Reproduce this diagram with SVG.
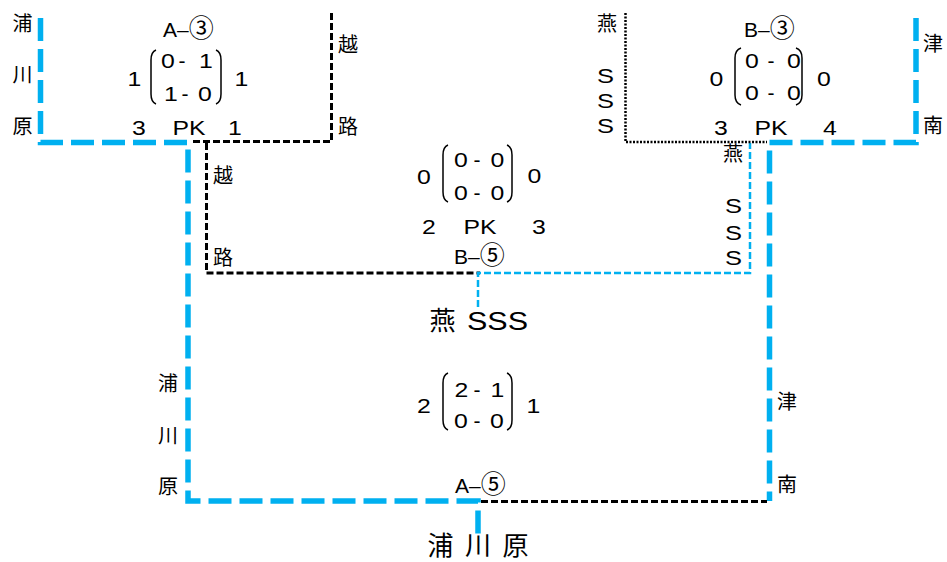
<svg xmlns="http://www.w3.org/2000/svg" width="947" height="562" viewBox="0 0 947 562">
<style>
.n{font-family:"Liberation Sans",Arial,sans-serif;font-size:21px;fill:#000;text-anchor:middle}
.m{font-family:"Liberation Sans",Arial,sans-serif;font-size:21px;fill:#000;text-anchor:middle}
.h{font-family:"Liberation Sans","Noto Sans CJK JP",sans-serif;font-size:21px;fill:#000}
.c{font-family:"Noto Sans CJK JP",sans-serif;font-size:25px}
.j{font-family:"Noto Sans CJK JP",sans-serif;font-size:20px;fill:#000;text-anchor:middle}
.big{font-family:"Liberation Sans","Noto Sans CJK JP",sans-serif;font-size:25px;fill:#000}
.bj{font-family:"Noto Sans CJK JP",sans-serif;font-size:26px;fill:#000;text-anchor:middle}
.bl{fill:none;stroke:#00b0f0;stroke-width:5.5;stroke-dasharray:23 8}
.bt{fill:none;stroke:#00b0f0;stroke-width:2.5;stroke-dasharray:7 3}
.kd{fill:none;stroke:#000;stroke-width:3;stroke-dasharray:7 3}
.kt{fill:none;stroke:#000;stroke-width:2.5;stroke-dasharray:2 1.5}
.p{fill:none;stroke:#000;stroke-width:1.5}
</style>
<g id="connectors">
<path class="kd" d="M331.5,13 V141.5 H190"/>
<path class="kd" d="M206.5,143 V273 H480"/>
<path class="bt" d="M478,307 V273 H750 V143"/>
<path class="kt" d="M625.5,13 V142 H767"/>
<path class="bl" d="M40.5,18 V142.5 H188 V501 H478 V535"/>
<path class="bl" d="M916,18 V142.5 H769.5 V501"/>
<path class="kd" d="M481,501.5 H767"/>
</g>
<g id="team-urakawara-top">
<text class="j" x="22.5" y="31">浦</text>
<text class="j" x="22.5" y="82">川</text>
<text class="j" x="22.5" y="134">原</text>
</g>
<g id="team-koshiji-top">
<text class="j" x="348" y="52">越</text>
<text class="j" x="348" y="134">路</text>
</g>
<g id="match-a3">
<text class="h" x="163" y="37">A–<tspan class="c">③</tspan></text>
<text class="n" x="134.5" y="86" textLength="13.8" lengthAdjust="spacingAndGlyphs">1</text>
<path class="p" d="M156,50 Q151,52 151,60 V94 Q151,102 156,104"/>
<path class="p" d="M216,50 Q221,52 221,60 V94 Q221,102 216,104"/>
<text class="m" x="168" y="68" textLength="13.8" lengthAdjust="spacingAndGlyphs">0</text>
<text class="m" x="182" y="68">-</text>
<text class="m" x="206" y="68" textLength="13.8" lengthAdjust="spacingAndGlyphs">1</text>
<text class="m" x="171" y="101" textLength="13.8" lengthAdjust="spacingAndGlyphs">1</text>
<text class="m" x="185" y="101">-</text>
<text class="m" x="205" y="101" textLength="13.8" lengthAdjust="spacingAndGlyphs">0</text>
<text class="n" x="241.5" y="86" textLength="13.8" lengthAdjust="spacingAndGlyphs">1</text>
<text class="n" x="139" y="135" textLength="13.8" lengthAdjust="spacingAndGlyphs">3</text>
<text class="n" x="189" y="135" textLength="33" lengthAdjust="spacingAndGlyphs">PK</text>
<text class="n" x="235" y="135" textLength="13.8" lengthAdjust="spacingAndGlyphs">1</text>
</g>
<g id="team-tsubame-top">
<text class="j" x="607" y="31">燕</text>
<text class="n" x="605.5" y="83" textLength="17" lengthAdjust="spacingAndGlyphs">S</text>
<text class="n" x="605.5" y="108" textLength="17" lengthAdjust="spacingAndGlyphs">S</text>
<text class="n" x="605.5" y="133" textLength="17" lengthAdjust="spacingAndGlyphs">S</text>
</g>
<g id="team-tsunan-top">
<text class="j" x="933" y="51">津</text>
<text class="j" x="933" y="133">南</text>
</g>
<g id="match-b3">
<text class="h" x="744" y="37">B–<tspan class="c">③</tspan></text>
<text class="n" x="716.5" y="86" textLength="13.8" lengthAdjust="spacingAndGlyphs">0</text>
<path class="p" d="M741,48 Q735,50 735,58 V95 Q735,103 741,105"/>
<path class="p" d="M796,48 Q802,50 802,58 V95 Q802,103 796,105"/>
<text class="m" x="752" y="68" textLength="13.8" lengthAdjust="spacingAndGlyphs">0</text>
<text class="m" x="771" y="68">-</text>
<text class="m" x="794" y="68" textLength="13.8" lengthAdjust="spacingAndGlyphs">0</text>
<text class="m" x="752" y="100" textLength="13.8" lengthAdjust="spacingAndGlyphs">0</text>
<text class="m" x="771" y="100">-</text>
<text class="m" x="794" y="100" textLength="13.8" lengthAdjust="spacingAndGlyphs">0</text>
<text class="n" x="824" y="86" textLength="13.8" lengthAdjust="spacingAndGlyphs">0</text>
<text class="n" x="721" y="135" textLength="13.8" lengthAdjust="spacingAndGlyphs">3</text>
<text class="n" x="771" y="135" textLength="33" lengthAdjust="spacingAndGlyphs">PK</text>
<text class="n" x="830" y="135" textLength="13.8" lengthAdjust="spacingAndGlyphs">4</text>
</g>
<g id="team-koshiji-mid">
<text class="j" x="223" y="183">越</text>
<text class="j" x="223" y="265">路</text>
</g>
<g id="team-tsubame-mid">
<text class="j" x="733" y="161">燕</text>
<text class="n" x="733.5" y="213" textLength="17" lengthAdjust="spacingAndGlyphs">S</text>
<text class="n" x="733.5" y="240" textLength="17" lengthAdjust="spacingAndGlyphs">S</text>
<text class="n" x="733.5" y="265" textLength="17" lengthAdjust="spacingAndGlyphs">S</text>
</g>
<g id="match-b5">
<text class="n" x="424" y="184" textLength="13.8" lengthAdjust="spacingAndGlyphs">0</text>
<path class="p" d="M448,145 Q443,147 443,155 V192 Q443,200 448,202"/>
<path class="p" d="M507,145 Q512,147 512,155 V192 Q512,200 507,202"/>
<text class="m" x="461" y="167" textLength="13.8" lengthAdjust="spacingAndGlyphs">0</text>
<text class="m" x="477" y="167">-</text>
<text class="m" x="497.5" y="167" textLength="13.8" lengthAdjust="spacingAndGlyphs">0</text>
<text class="m" x="461" y="200" textLength="13.8" lengthAdjust="spacingAndGlyphs">0</text>
<text class="m" x="477" y="200">-</text>
<text class="m" x="497.5" y="200" textLength="13.8" lengthAdjust="spacingAndGlyphs">0</text>
<text class="n" x="534.5" y="183" textLength="13.8" lengthAdjust="spacingAndGlyphs">0</text>
<text class="n" x="429" y="234" textLength="13.8" lengthAdjust="spacingAndGlyphs">2</text>
<text class="n" x="480" y="234" textLength="33" lengthAdjust="spacingAndGlyphs">PK</text>
<text class="n" x="539" y="234" textLength="13.8" lengthAdjust="spacingAndGlyphs">3</text>
<text class="h" x="454" y="264">B–<tspan class="c">⑤</tspan></text>
</g>
<g id="winner-tsubame">
<text class="bj" x="442.5" y="330">燕</text>
<text class="big" x="467" y="330" textLength="61" lengthAdjust="spacingAndGlyphs">SSS</text>
</g>
<g id="team-urakawara-bottom">
<text class="j" x="168" y="391">浦</text>
<text class="j" x="168" y="443">川</text>
<text class="j" x="168" y="494">原</text>
</g>
<g id="team-tsunan-bottom">
<text class="j" x="787" y="409">津</text>
<text class="j" x="787" y="492">南</text>
</g>
<g id="match-a5">
<text class="n" x="424" y="413" textLength="13.8" lengthAdjust="spacingAndGlyphs">2</text>
<path class="p" d="M448,373 Q443,375 443,383 V420 Q443,428 448,430"/>
<path class="p" d="M507,373 Q512,375 512,383 V420 Q512,428 507,430"/>
<text class="m" x="461.5" y="397" textLength="13.8" lengthAdjust="spacingAndGlyphs">2</text>
<text class="m" x="477" y="397">-</text>
<text class="m" x="497.5" y="397" textLength="13.8" lengthAdjust="spacingAndGlyphs">1</text>
<text class="m" x="461" y="428" textLength="13.8" lengthAdjust="spacingAndGlyphs">0</text>
<text class="m" x="477" y="428">-</text>
<text class="m" x="497" y="428" textLength="13.8" lengthAdjust="spacingAndGlyphs">0</text>
<text class="n" x="533.5" y="413" textLength="13.8" lengthAdjust="spacingAndGlyphs">1</text>
<text class="h" x="455" y="493">A–<tspan class="c">⑤</tspan></text>
</g>
<g id="winner-urakawara">
<text class="bj" x="440.5" y="555">浦</text>
<text class="bj" x="478" y="555">川</text>
<text class="bj" x="515.5" y="555">原</text>
</g>
</svg>
